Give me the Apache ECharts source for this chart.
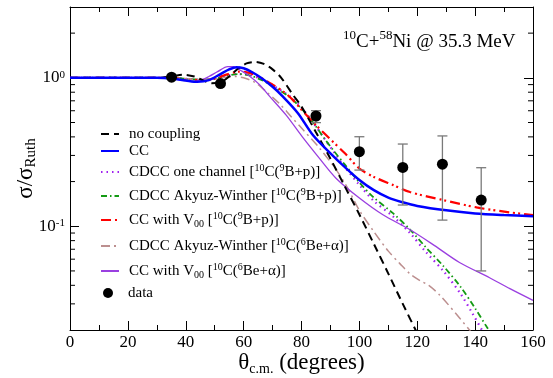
<!DOCTYPE html>
<html><head><meta charset="utf-8">
<script src="https://cdn.jsdelivr.net/npm/echarts@6/dist/echarts.min.js"></script>
<style>html,body{margin:0;padding:0;background:#fff}#c{width:553px;height:378px}</style>
</head><body><div id="c"></div>
<script>
const FONT = "'Liberation Serif','Times New Roman',serif";

// ---- tick values ----
const xTickInterval = 20;
const yMinorTicks = [0.03,0.04,0.05,0.06,0.07,0.08,0.09,0.2,0.3,0.4,0.5,0.6,0.7,0.8,0.9,2];

// ---- curves: [angle (deg), sigma/sigma_Ruth] ----
const noCoupling = [[0,1.0],[20,1.0],[30,1.0],[35,1.02],[39,1.05],[43,1.02],[46,0.96],[49,0.92],[52,0.93],[55,1.02],[58,1.15],[61,1.25],[64,1.28],[67,1.24],[70,1.14],[73,1.0],[77,0.77],[80,0.64],[85,0.43],[90,0.285],[95,0.185],[100,0.12],[105,0.076],[110,0.048],[115,0.03],[120,0.019],[122,0.016]];
const cc = [[0,1.0],[20,1.0],[30,1.0],[35,0.99],[40,0.96],[44,0.94],[48,0.965],[52,1.06],[55,1.14],[57.5,1.18],[60,1.16],[63,1.09],[66,1.0],[70,0.87],[73.5,0.75],[78.7,0.58],[84,0.41],[90,0.31],[95,0.25],[100,0.205],[105,0.175],[110,0.156],[115,0.145],[120,0.137],[130,0.128],[140,0.122],[150,0.119],[160,0.117]];
const cdccOneChannel = [[0,1.0],[30,1.0],[35,1.0],[40,0.985],[45,0.97],[50,0.985],[54,1.03],[58,1.06],[62,1.05],[66,0.98],[70,0.89],[73,0.82],[76,0.75],[80,0.63],[84,0.5],[87.5,0.4],[91,0.32],[95,0.25],[100,0.19],[105,0.148],[111.5,0.117],[117.5,0.09],[123,0.067],[129,0.05],[135,0.035],[139,0.026],[143,0.019],[146,0.015]];
const cdccAW9B = [[0,1.0],[30,1.0],[35,1.0],[40,0.985],[45,0.97],[50,0.985],[54,1.03],[58,1.06],[62,1.04],[66,0.97],[70,0.88],[73,0.81],[76,0.74],[80,0.62],[84,0.5],[87.5,0.4],[91,0.325],[95,0.26],[100,0.197],[105,0.156],[111.5,0.123],[117.5,0.095],[123,0.072],[129,0.054],[135,0.039],[140,0.028],[144,0.021],[148,0.016]];
const ccV00_9B = [[0,1.0],[30,1.0],[35,1.0],[40,0.98],[45,0.965],[50,0.99],[54,1.05],[58.5,1.1],[62,1.08],[66,1.0],[70,0.9],[74,0.8],[77,0.71],[80,0.61],[85,0.48],[90,0.385],[95,0.31],[100,0.245],[105,0.215],[111.5,0.19],[117.5,0.17],[129,0.15],[140.5,0.134],[152,0.124],[160,0.119]];
const cdccAW6Be = [[0,1.0],[30,1.0],[35,1.0],[40,0.985],[45,0.975],[50,0.985],[54,1.01],[57,1.02],[60,1.0],[64,0.93],[68,0.8],[72.4,0.67],[76,0.56],[80.4,0.45],[86,0.34],[92,0.24],[96,0.18],[100,0.128],[105,0.092],[110,0.068],[114,0.056],[117.4,0.048],[121,0.043],[124,0.04],[128,0.034],[134.7,0.024],[139,0.019],[142,0.016]];
const ccV00_6Be = [[0,1.0],[30,1.0],[35,0.99],[39,0.96],[42,0.945],[45,0.96],[48,1.02],[51,1.1],[54.5,1.19],[56.5,1.19],[59,1.12],[62,1.03],[65.5,0.9],[69,0.75],[74.7,0.56],[80.3,0.4],[86,0.29],[92,0.21],[100,0.155],[108,0.12],[117.4,0.095],[126,0.074],[134.6,0.057],[145,0.045],[152,0.038],[160,0.0317]];

// ---- experimental data ----
const dataAngle = [35.1, 52.0, 85.0, 100.0, 115.0, 128.7, 142.1];
const dataValue = [1.01, 0.915, 0.553, 0.318, 0.249, 0.262, 0.150];
const dataLow   = [0.99, 0.895, 0.499, 0.239, 0.139, 0.110, 0.050];
const dataHigh  = [1.03, 0.935, 0.601, 0.401, 0.358, 0.406, 0.248];

// ---- legend labels ----
const legendLabels = {
  'no coupling': 'no coupling',
  'CC': 'CC',
  'CDCC one channel': 'CDCC one channel [{sup|10}C({sup|9}B+p)]',
  'CDCC Akyuz-Winther 9B': 'CDCC Akyuz-Winther [{sup|10}C({sup|9}B+p)]',
  'CC with V00 9B': 'CC with V{sub|00} [{sup|10}C({sup|9}B+p)]',
  'CDCC Akyuz-Winther 6Be': 'CDCC Akyuz-Winther [{sup|10}C({sup|6}Be+α)]',
  'CC with V00 6Be': 'CC with V{sub|00} [{sup|10}C({sup|6}Be+α)]',
  'data': 'data'
};
const legendCenters = [134, 151, 172, 196, 220, 246, 271, 293];

const chart = echarts.init(document.getElementById('c'), null, {renderer:'canvas'});

const richSmall = {
  sup: {fontFamily: FONT, fontSize: 10, lineHeight: 10, verticalAlign: 'top', color: '#000'},
  sub: {fontFamily: FONT, fontSize: 10, lineHeight: 8, verticalAlign: 'bottom', color: '#000'},
  g: {width: 5}
};

function lineSeries(name, data, color, width, type, z) {
  return {
    type: 'line', name, data, showSymbol: false, symbol: 'none', smooth: 0.3,
    lineStyle: {color, width, type},
    itemStyle: {color}, z: z || 2, silent: true, clip: true
  };
}

const seriesNames = Object.keys(legendLabels);

const option = {
  animation: false,
  backgroundColor: '#fff',
  title: {
    text: '{sup|10}C+{sup|58}Ni @ 35.3 MeV',
    left: 343, top: 29, padding: 0,
    textStyle: {
      fontFamily: FONT, fontSize: 19, fontWeight: 'normal', color: '#000', lineHeight: 26,
      rich: {
        sup: {fontFamily: FONT, fontSize: 13, lineHeight: 12, verticalAlign: 'top', color: '#000'}
      }
    }
  },
  grid: {left: 70, top: 7, width: 463, height: 323, containLabel: false, outerBoundsMode: 'none'},
  xAxis: [{
    type: 'value', min: 0, max: 160, interval: xTickInterval, position: 'bottom',
    axisLine: {show: true, onZero: false, lineStyle: {color: '#000', width: 1}},
    axisTick: {show: true, inside: true, length: 9, lineStyle: {color: '#000'}},
    minorTick: {show: true, splitNumber: 2, length: 5, lineStyle: {color: '#000'}},
    axisLabel: {fontFamily: FONT, fontSize: 17, color: '#000', margin: 4},
    splitLine: {show: false},
    name: 'θ{sub|c.m.} (degrees)', nameLocation: 'middle', nameGap: 20, nameMoveOverlap: false,
    nameTextStyle: {
      fontFamily: FONT, fontSize: 23, color: '#000', lineHeight: 26,
      rich: {sub: {fontFamily: FONT, fontSize: 14, lineHeight: 10, verticalAlign: 'bottom', color: '#000'}}
    }
  }, {
    type: 'value', min: 0, max: 160, interval: xTickInterval, position: 'top',
    axisLine: {show: true, onZero: false, lineStyle: {color: '#000', width: 1}},
    axisTick: {show: true, inside: true, length: 9, lineStyle: {color: '#000'}},
    minorTick: {show: true, splitNumber: 2, length: 5, lineStyle: {color: '#000'}},
    axisLabel: {show: false}, splitLine: {show: false}
  }],
  yAxis: [{
    type: 'log', logBase: 10, min: 0.02, max: 3, position: 'left',
    axisLine: {show: true, onZero: false, lineStyle: {color: '#000', width: 1}},
    axisTick: {show: true, inside: true, length: 9, lineStyle: {color: '#000'}},
    axisLabel: {
      fontFamily: FONT, fontSize: 17, color: '#000', margin: 5,
      formatter: function (v) {
        const l = Math.log10(v), e = Math.round(l);
        if (Math.abs(l - e) > 1e-6) return '';
        return '10{sup|' + e + '}';
      },
      rich: {sup: {fontFamily: FONT, fontSize: 11, lineHeight: 10, verticalAlign: 'top', color: '#000'}}
    },
    splitLine: {show: false},
    name: 'σ/σ{sub|Ruth}', nameLocation: 'middle', nameGap: 31, nameRotate: 90, nameMoveOverlap: false,
    nameTextStyle: {
      fontFamily: FONT, fontSize: 23, color: '#000', lineHeight: 26,
      rich: {sub: {fontFamily: FONT, fontSize: 15, lineHeight: 10, verticalAlign: 'bottom', color: '#000'}}
    }
  }, {
    type: 'log', logBase: 10, min: 0.02, max: 3, position: 'right',
    axisLine: {show: true, onZero: false, lineStyle: {color: '#000', width: 1}},
    axisTick: {show: true, inside: true, length: 9, lineStyle: {color: '#000'}},
    axisLabel: {show: false}, splitLine: {show: false}
  }],
  legend: seriesNames.map(function (n, i) {
    const isData = n === 'data';
    return {
      data: [n], left: isData ? 103 : 100, top: legendCenters[i] - 9, padding: 0,
      itemWidth: isData ? 10 : 18, itemHeight: isData ? 10 : 12,
      selectedMode: false,
      itemStyle: isData ? {} : {opacity: 0},
      formatter: function (name) { return '{g| }' + (isData ? '{g| }' : '') + legendLabels[name]; },
      textStyle: {fontFamily: FONT, fontSize: 15, color: '#000', lineHeight: 18, rich: richSmall}
    };
  }),
  series: [
    lineSeries('no coupling', noCoupling, '#000000', 2, [8, 5], 3),
    lineSeries('CC', cc, '#0000ff', 2.5, 'solid', 3),
    lineSeries('CDCC one channel', cdccOneChannel, '#a020f0', 2.2, [1.5, 4], 2),
    lineSeries('CDCC Akyuz-Winther 9B', cdccAW9B, '#139a13', 1.8, [6, 3, 1.5, 3], 2),
    lineSeries('CC with V00 9B', ccV00_9B, '#ff0000', 2.2, [10, 4, 2, 3, 2, 4], 2),
    lineSeries('CDCC Akyuz-Winther 6Be', cdccAW6Be, '#bc8f8f', 1.5, [9, 4, 2, 4], 2),
    lineSeries('CC with V00 6Be', ccV00_6Be, '#9a3fe0', 1.3, 'solid', 2),
    {
      type: 'custom', name: 'errorbars', silent: true, z: 4,
      data: dataAngle.map(function (x, i) { return [x, dataLow[i], dataHigh[i]]; }),
      encode: {x: 0, y: [1, 2]},
      renderItem: function (params, api) {
        const x = api.value(0);
        const lo = api.coord([x, api.value(1)]);
        const hi = api.coord([x, api.value(2)]);
        const w = 5, st = {stroke: '#7a7a7a', lineWidth: 1.3};
        return {type: 'group', children: [
          {type: 'line', shape: {x1: lo[0], y1: lo[1], x2: hi[0], y2: hi[1]}, style: st},
          {type: 'line', shape: {x1: hi[0] - w, y1: hi[1], x2: hi[0] + w, y2: hi[1]}, style: st},
          {type: 'line', shape: {x1: lo[0] - w, y1: lo[1], x2: lo[0] + w, y2: lo[1]}, style: st}
        ]};
      }
    },
    {
      type: 'scatter', name: 'data', symbol: 'circle', symbolSize: 11, z: 5, silent: true,
      itemStyle: {color: '#000', opacity: 1},
      data: dataAngle.map(function (x, i) { return [x, dataValue[i]]; })
    },
    {
      type: 'custom', name: 'yminor', silent: true, z: 6,
      data: yMinorTicks.map(function (v) { return [0, v]; }),
      encode: {x: 0, y: 1},
      renderItem: function (params, api) {
        const v = api.value(1);
        const pl = api.coord([0, v]);
        const pr = api.coord([160, v]);
        const st = {stroke: '#000', lineWidth: 1};
        return {type: 'group', children: [
          {type: 'line', shape: {x1: pl[0], y1: pl[1], x2: pl[0] + 5, y2: pl[1]}, style: st},
          {type: 'line', shape: {x1: pr[0] - 5, y1: pr[1], x2: pr[0], y2: pr[1]}, style: st}
        ]};
      }
    }
  ]
};
chart.setOption(option);
</script></body></html>
